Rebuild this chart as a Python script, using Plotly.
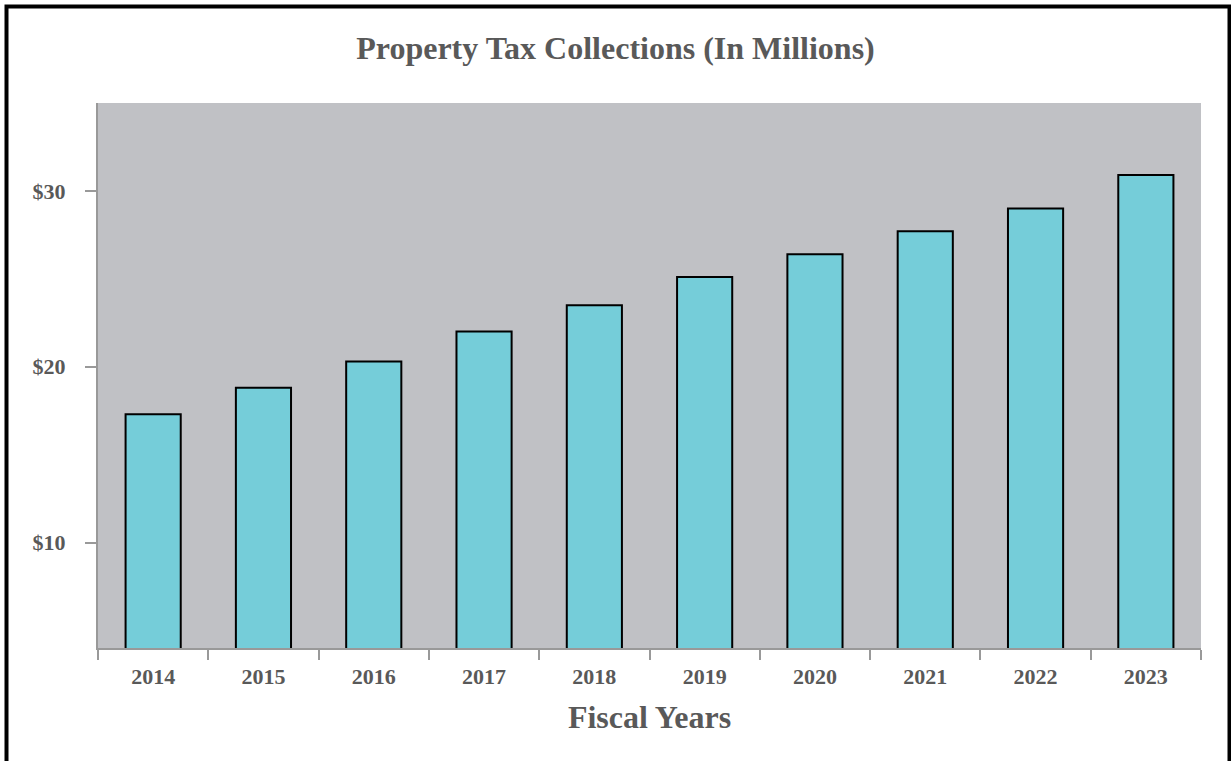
import plotly.graph_objects as go

# Property tax collections by fiscal year, in millions of dollars
years = ["2014", "2015", "2016", "2017", "2018", "2019", "2020", "2021", "2022", "2023"]
collections = [17.3, 18.8, 20.3, 22.0, 23.5, 25.1, 26.4, 27.7, 29.0, 30.9]

y_ticks = [10, 20, 30]
y_tick_labels = ["$10", "$20", "$30"]

FONT = "Liberation Serif"
TEXT_GREY = "#595959"
AXIS_GREY = "#999999"

fig = go.Figure(
    go.Bar(
        x=years,
        y=collections,
        marker=dict(color="#75CDD9", line=dict(color="#000000", width=2)),
        hoverinfo="x+y",
    )
)

fig.update_layout(
    width=1231,
    height=761,
    margin=dict(l=98, r=30, t=103, b=113),
    paper_bgcolor="white",
    plot_bgcolor="#C0C1C5",
    bargap=0.5,
    showlegend=False,
    title=dict(
        text="<b>Property Tax Collections (In Millions)</b>",
        x=0.5,
        xanchor="center",
        y=0.937,
        yanchor="middle",
        font=dict(family=FONT, size=32, color=TEXT_GREY),
    ),
    xaxis=dict(
        type="category",
        tickson="boundaries",
        ticks="outside",
        ticklen=10,
        tickwidth=2,
        tickcolor=AXIS_GREY,
        showline=True,
        linecolor=AXIS_GREY,
        linewidth=2,
        showgrid=False,
        ticklabelstandoff=8,
        tickfont=dict(family=FONT, size=22, color=TEXT_GREY, weight="bold"),
        title=dict(
            text="<b>Fiscal Years</b>",
            font=dict(family=FONT, size=32, color=TEXT_GREY),
            standoff=17,
        ),
    ),
    yaxis=dict(
        range=[4, 35],
        tickvals=y_ticks,
        ticktext=y_tick_labels,
        ticks="outside",
        ticklen=11,
        tickwidth=2,
        tickcolor=AXIS_GREY,
        showline=True,
        linecolor=AXIS_GREY,
        linewidth=2,
        showgrid=False,
        zeroline=False,
        ticklabelstandoff=15,
        tickfont=dict(family=FONT, size=22, color=TEXT_GREY, weight="bold"),
    ),
    shapes=[
        # outer black frame around the whole chart
        dict(
            type="rect",
            xref="paper",
            yref="paper",
            x0=(6.5 - 98) / 1103,
            x1=(1229.5 - 98) / 1103,
            y0=-0.25,
            y1=1 + (103 - 6.5) / 545,
            line=dict(color="black", width=4),
            fillcolor="rgba(0,0,0,0)",
            layer="above",
        )
    ],
)

fig.write_html("out.html")
